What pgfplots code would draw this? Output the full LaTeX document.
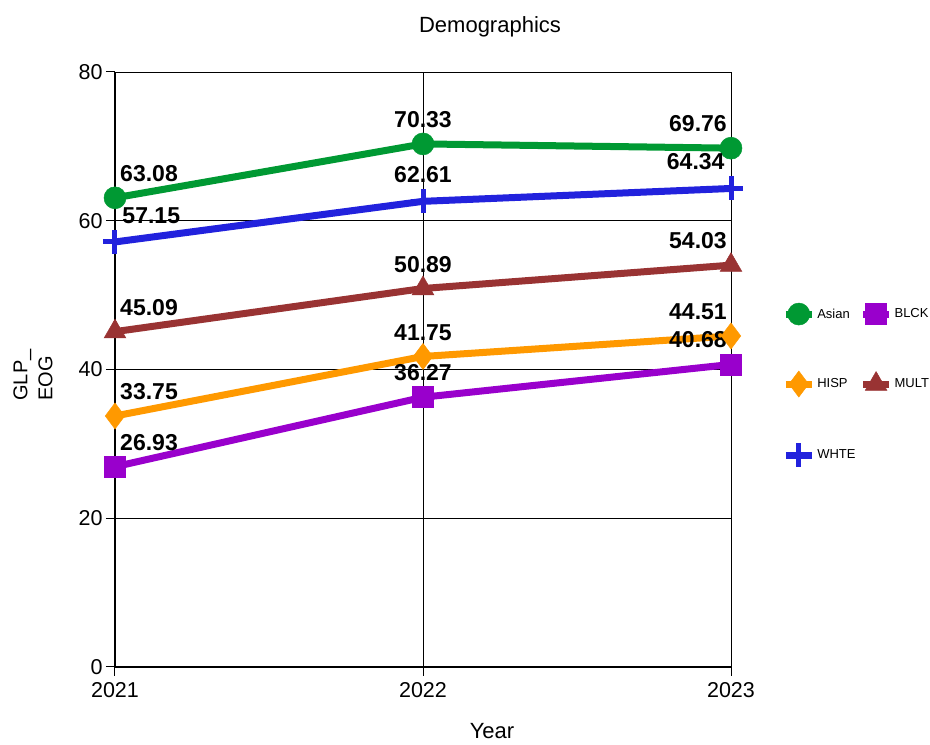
\documentclass[border=0pt]{standalone}
\usepackage{fontspec}
\setmainfont{Liberation Sans}
\usepackage{pgfplots}
\pgfplotsset{compat=1.18}
\definecolor{cAsian}{RGB}{0,153,51}
\definecolor{cBLCK}{RGB}{153,0,204}
\definecolor{cHISP}{RGB}{255,153,0}
\definecolor{cMULT}{RGB}{153,51,51}
\definecolor{cWHTE}{RGB}{34,34,221}
\begin{document}
\begin{tikzpicture}[x=1pt,y=1pt]
\useasboundingbox (-115,-78) rectangle (815,667);
\begin{axis}[
  at={(0,0)}, anchor=south west,
  width=616pt, height=595pt, scale only axis,
  xmin=0, xmax=2, ymin=0, ymax=80,
  xtick={0,1,2}, xticklabels={2021,2022,2023},
  ytick={0,20,40,60,80},
  grid=major, major grid style={black, line width=0.8pt},
  axis line style={black, line width=0.8pt},
  tick pos=left, tick align=outside, major tick length=9pt,
  tick style={black, line width=1pt},
  ticklabel style={font=\fontsize{21.5}{21.5}\selectfont},
  xticklabel style={yshift=-3pt},
  /pgf/number format/assume math mode=true,
  clip=false,
  point meta=explicit symbolic,
  nodes near coords,
  nodes near coords style={font=\fontsize{23}{23}\selectfont\bfseries, inner sep=0pt, text=black},
  coordinate style/.condition={x<0.5}{anchor=south west, xshift=5pt, yshift=16pt},
  coordinate style/.condition={x>0.5 && x<1.5}{anchor=south, yshift=16pt},
  coordinate style/.condition={x>1.5}{anchor=south east, xshift=-4pt, yshift=16pt},
  every axis plot/.append style={line width=7pt},
  legend columns=2,
  legend cell align=left,
  legend style={at={(1.083,0.612)}, anchor=north west, draw=none, fill=none, inner sep=0pt,
    font=\fontsize{13}{13}\selectfont,
    /tikz/every even column/.append style={column sep=2pt},
    row sep=46pt},
  legend image code/.code={\draw[#1, line width=7pt, mark repeat=2, mark phase=2] plot coordinates {(0pt,0pt)(13pt,0pt)(26pt,0pt)};},
]
\addplot[color=cAsian, mark=*, mark size=11pt, mark options={solid, line width=0.5pt}]
  coordinates {(0,63.08)[63.08] (1,70.33)[70.33] (2,69.76)[69.76]};
\addlegendentry{Asian}
\addplot[color=cBLCK, mark=square*, mark size=10.5pt, mark options={solid, line width=0.5pt}]
  coordinates {(0,26.93)[26.93] (1,36.27)[36.27] (2,40.68)[40.68]};
\addlegendentry{BLCK}
\addplot[color=cHISP, mark=diamond*, mark size=13pt, mark options={solid, line width=0.5pt}]
  coordinates {(0,33.75)[33.75] (1,41.75)[41.75] (2,44.51)[44.51]};
\addlegendentry{HISP}
\addplot[color=cMULT, mark=triangle*, mark size=12.5pt, mark options={solid, line width=0.5pt}]
  coordinates {(0,45.09)[45.09] (1,50.89)[50.89] (2,54.03)[54.03]};
\addlegendentry{MULT}
\addplot[color=cWHTE, mark=+, mark size=12pt, mark options={solid, line width=5pt}]
  coordinates {(0,57.15)[57.15] (1,62.61)[62.61] (2,64.34)[64.34]};
\addlegendentry{WHTE}
\draw[black, line width=2.5pt] (rel axis cs:0,1) -- (rel axis cs:0,0) -- (rel axis cs:1,0);
\end{axis}
\node[font=\fontsize{22}{22}\selectfont] at (375,640) {Demographics};
\node[font=\fontsize{22}{22}\selectfont] at (377,-64) {Year};
\node[font=\fontsize{20}{25}\selectfont, rotate=90, align=left] at (-82,292) {GLP\_\\EOG};
\end{tikzpicture}
\end{document}
